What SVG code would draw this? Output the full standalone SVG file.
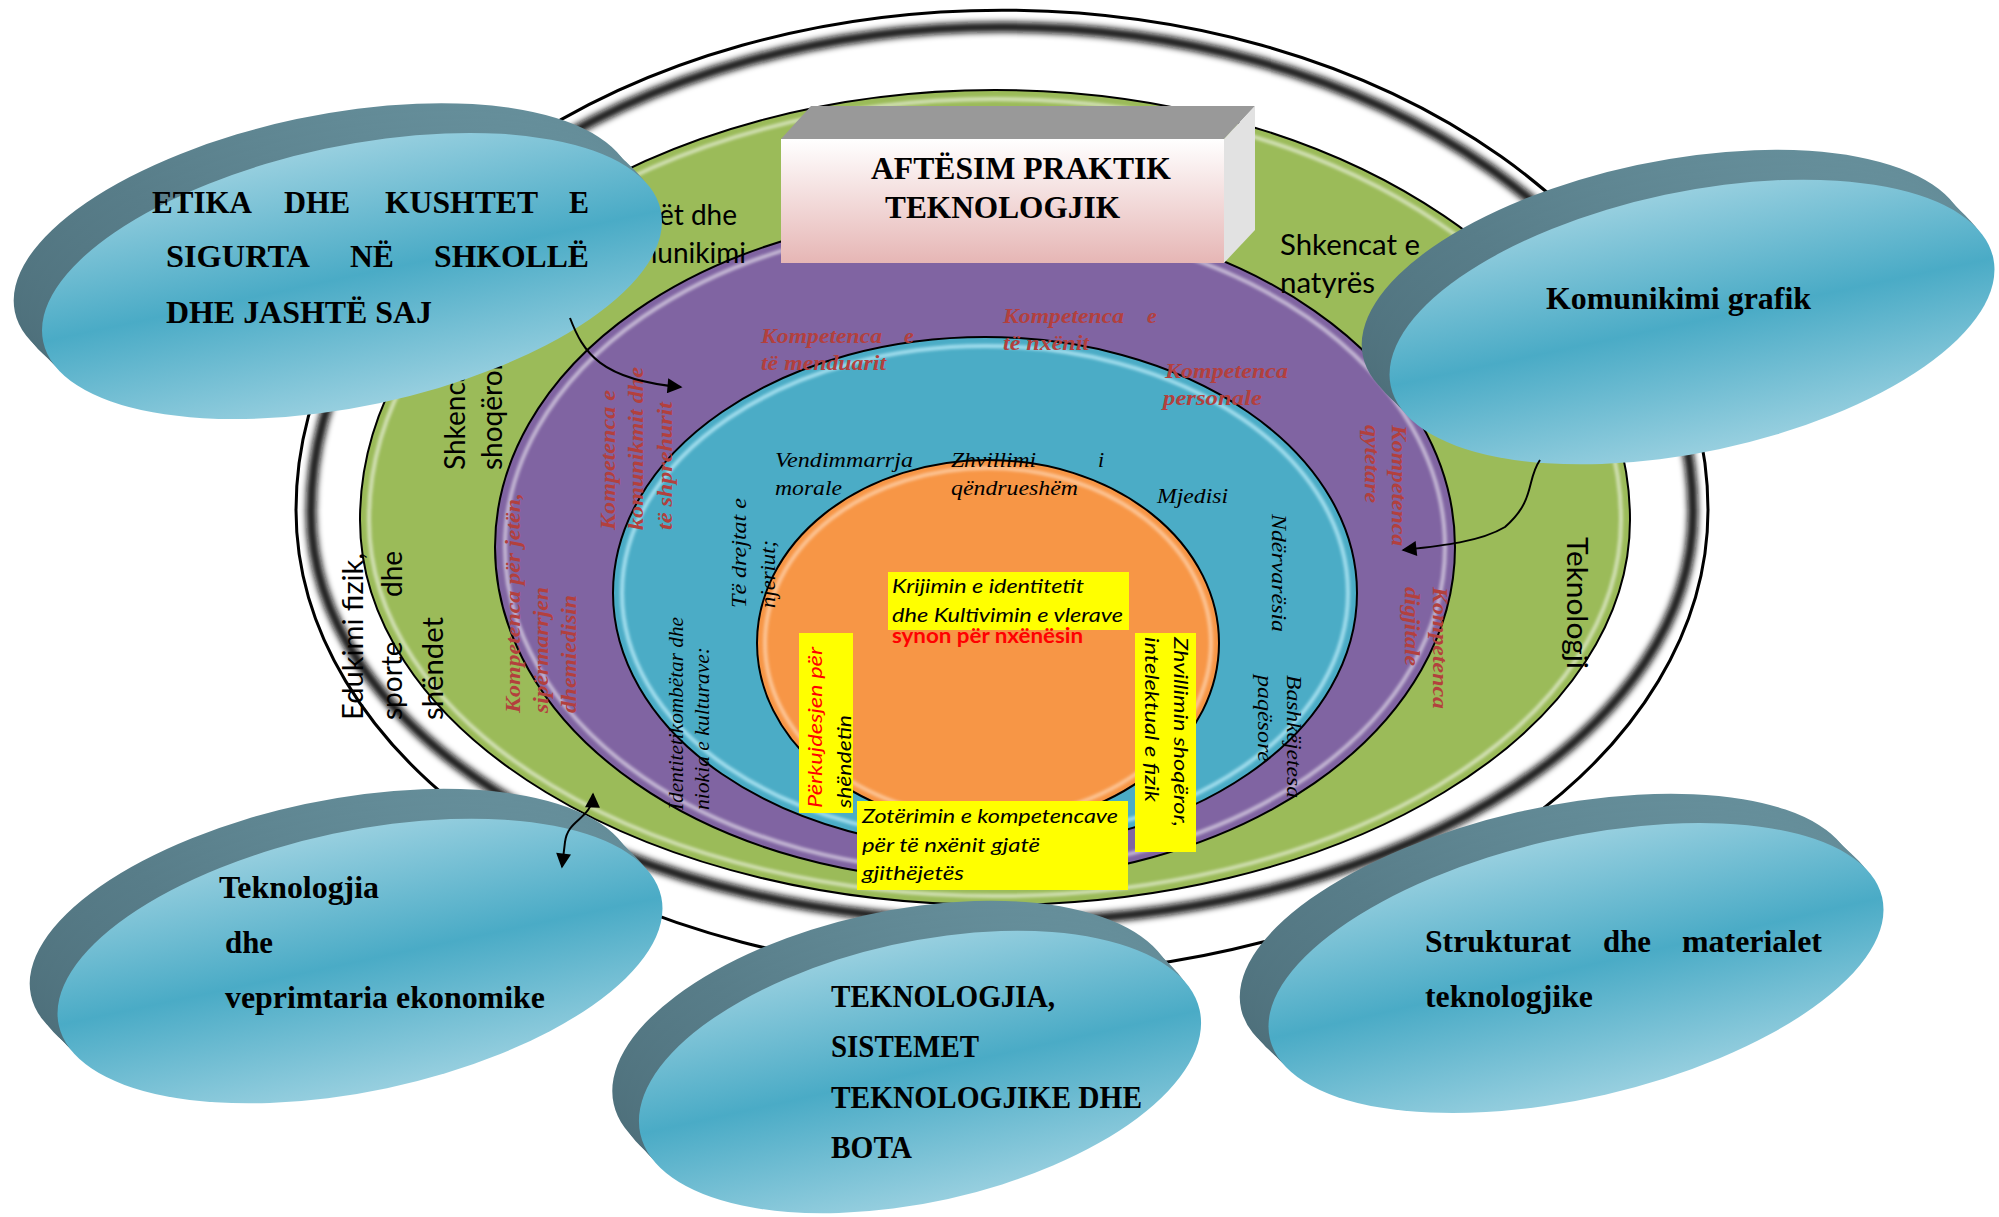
<svg xmlns="http://www.w3.org/2000/svg" xmlns:xlink="http://www.w3.org/1999/xlink" width="1999" height="1217" viewBox="0 0 1999 1217">
<style>
.g{font-family:Lato,"Open Sans",sans-serif;font-size:28px;fill:#000}
.pr{font-family:"Liberation Serif",serif;font-weight:bold;font-style:italic;font-size:22px;fill:#b3403d}
.bi{font-family:"Liberation Serif",serif;font-style:italic;font-size:22px;fill:#000}
.bs{font-family:"Liberation Serif",serif;font-style:italic;font-size:20px;fill:#000}
.yi{font-family:Lato,"Open Sans",sans-serif;font-style:italic;font-size:20px;fill:#000}
.yr{font-family:Lato,"Open Sans",sans-serif;font-style:italic;font-size:20px;fill:#ff0000}
.rb{font-family:Lato,"Open Sans",sans-serif;font-weight:bold;font-size:21px;fill:#ff0000}
.dt{font-family:"Liberation Serif",serif;font-weight:bold;font-size:31px;fill:#000}
.ttl{font-family:"Liberation Serif",serif;font-weight:bold;font-size:32px;fill:#000}
.ybox{fill:#ffff00}
.conn{fill:none;stroke:#000;stroke-width:2}
.hl{fill:none;stroke:#fff;stroke-width:4;opacity:.55;filter:url(#blur2)}
</style>
<defs>
<filter id="blur2" x="-5%" y="-5%" width="110%" height="110%"><feGaussianBlur stdDeviation="1.6"/></filter>
<filter id="blur4" x="-5%" y="-5%" width="110%" height="110%"><feGaussianBlur stdDeviation="3.2"/></filter>
<linearGradient id="face" x1="0" y1="0" x2="0" y2="1">
<stop offset="0" stop-color="#97cfdf"/><stop offset="0.5" stop-color="#4aabc6"/><stop offset="1" stop-color="#97cfdf"/>
</linearGradient>
<linearGradient id="side" x1="0" y1="1" x2="1" y2="0">
<stop offset="0" stop-color="#486873"/><stop offset="0.55" stop-color="#587d89"/><stop offset="1" stop-color="#6c97a3"/>
</linearGradient>
<linearGradient id="front" x1="0" y1="0" x2="0" y2="1">
<stop offset="0" stop-color="#ffffff"/><stop offset="1" stop-color="#e6b6b5"/>
</linearGradient>
<g id="discShape">
<ellipse cx="-21" cy="-35" rx="308" ry="130" fill="url(#side)"/>
<ellipse cx="-16" cy="-26" rx="308" ry="130" fill="url(#side)"/>
<ellipse cx="-10" cy="-17" rx="308" ry="130" fill="url(#side)"/>
<ellipse cx="-5" cy="-9" rx="308" ry="130" fill="url(#side)"/>
<ellipse cx="0" cy="0" rx="308" ry="130" fill="url(#face)"/>
</g>
<marker id="ah" viewBox="0 0 10 10" refX="9" refY="5" markerUnits="userSpaceOnUse" markerWidth="17" markerHeight="15" orient="auto-start-reverse">
<path d="M0,0 L10,5 L0,10 z" fill="#000"/>
</marker>
</defs>
<rect width="1999" height="1217" fill="#fff"/>

<g id="ring">
<path d="M296,510 A706,500 0 0 1 1708,510 A706,465 0 0 1 296,510 Z" fill="#fff" stroke="#000" stroke-width="3"/>
<path d="M311,512 A691,485 0 0 1 1693,512 A691,410 0 0 1 311,512 Z" fill="none" stroke="#111" stroke-width="10" filter="url(#blur4)"/>
</g>

<g id="green-band">
<path d="M360,520 A635,430 0 0 1 1630,520 A635,385 0 0 1 360,520 Z" fill="#9bbb59" stroke="#000" stroke-width="2"/>
<path d="M369,520 A626,421 0 0 1 1621,520 A626,376 0 0 1 369,520 Z" class="hl"/>
</g>

<g id="purple-band">
<ellipse cx="975" cy="547" rx="480" ry="334" fill="#8064a2" stroke="#000" stroke-width="2"/>
<ellipse cx="975" cy="547" rx="470" ry="325" class="hl"/>
</g>

<g id="blue-band">
<ellipse cx="985" cy="593" rx="372" ry="256" fill="#4bacc6" stroke="#000" stroke-width="2"/>
<ellipse cx="985" cy="593" rx="363" ry="247" class="hl" style="stroke:#c8f4ff;opacity:.7"/>
</g>

<g id="orange-core">
<ellipse cx="988" cy="643" rx="231" ry="183" fill="#f79646" stroke="#000" stroke-width="2"/>
<ellipse cx="988" cy="643" rx="223" ry="175" class="hl" style="stroke:#ffd9b8;opacity:.7"/>
</g>

<g id="green-band-labels">
<text class="g" x="1280" y="255" textLength="140" lengthAdjust="spacingAndGlyphs">Shkencat e</text>
<text class="g" x="1280" y="293" textLength="95" lengthAdjust="spacingAndGlyphs">natyrës</text>
<text class="g" x="737" y="225" text-anchor="end">Gjuhët dhe</text>
<text class="g" x="746" y="263" text-anchor="end">komunikimi</text>
<text class="g" transform="translate(465,470) rotate(-90)">Shkencat</text>
<text class="g" transform="translate(502,470) rotate(-90)">shoqërore</text>
<text class="g" transform="translate(363,720) rotate(-90)" textLength="167" lengthAdjust="spacingAndGlyphs">Edukimi fizik,</text>
<text class="g" transform="translate(402,720) rotate(-90)">sporte<tspan x="123">dhe</tspan></text>
<text class="g" transform="translate(443,720) rotate(-90)" textLength="103" lengthAdjust="spacingAndGlyphs">shëndet</text>
<text class="g" transform="translate(1567,537) rotate(90)" textLength="132" lengthAdjust="spacingAndGlyphs">Teknologji</text>
</g>

<g id="purple-band-labels">
<text class="pr" x="761" y="343"><tspan textLength="121" lengthAdjust="spacingAndGlyphs">Kompetenca</tspan><tspan x="904">e</tspan></text>
<text class="pr" x="761" y="370" textLength="125" lengthAdjust="spacingAndGlyphs">të menduarit</text>
<text class="pr" x="1003" y="323"><tspan textLength="121" lengthAdjust="spacingAndGlyphs">Kompetenca</tspan><tspan x="1147">e</tspan></text>
<text class="pr" x="1003" y="350" textLength="86" lengthAdjust="spacingAndGlyphs">të nxënit</text>
<text class="pr" x="1165" y="378" textLength="123" lengthAdjust="spacingAndGlyphs">Kompetenca</text>
<text class="pr" x="1163" y="405" textLength="99" lengthAdjust="spacingAndGlyphs">personale</text>
<text class="pr" transform="translate(1392,425) rotate(90)" textLength="121" lengthAdjust="spacingAndGlyphs">Kompetenca</text>
<text class="pr" transform="translate(1365,425) rotate(90)" textLength="78" lengthAdjust="spacingAndGlyphs">qytetare</text>
<text class="pr" transform="translate(1433,587) rotate(90)" textLength="122" lengthAdjust="spacingAndGlyphs">Kompetenca</text>
<text class="pr" transform="translate(1405,587) rotate(90)" textLength="79" lengthAdjust="spacingAndGlyphs">digjitale</text>
<text class="pr" transform="translate(520,713) rotate(-90)" textLength="220" lengthAdjust="spacingAndGlyphs">Kompetenca për jetën,</text>
<text class="pr" transform="translate(548,713) rotate(-90)" textLength="126" lengthAdjust="spacingAndGlyphs">sipërmarrjen</text>
<text class="pr" transform="translate(576,713) rotate(-90)" textLength="118" lengthAdjust="spacingAndGlyphs">dhemiedisin</text>
<text class="pr" transform="translate(615,530) rotate(-90)" textLength="140" lengthAdjust="spacingAndGlyphs">Kompetenca e</text>
<text class="pr" transform="translate(643,530) rotate(-90)" textLength="163" lengthAdjust="spacingAndGlyphs">komunikmit dhe</text>
<text class="pr" transform="translate(672,530) rotate(-90)" textLength="128" lengthAdjust="spacingAndGlyphs">të shprehurit</text>
</g>

<g id="blue-band-labels">
<text class="bi" x="775" y="467" textLength="138" lengthAdjust="spacingAndGlyphs">Vendimmarrja</text>
<text class="bi" x="775" y="495" textLength="67" lengthAdjust="spacingAndGlyphs">morale</text>
<text class="bi" x="951" y="467"><tspan textLength="85" lengthAdjust="spacingAndGlyphs">Zhvillimi</tspan><tspan x="1098">i</tspan></text>
<text class="bi" x="951" y="495" textLength="127" lengthAdjust="spacingAndGlyphs">qëndrueshëm</text>
<text class="bi" x="1157" y="503" textLength="71" lengthAdjust="spacingAndGlyphs">Mjedisi</text>
<text class="bi" transform="translate(1272,514) rotate(90)" textLength="118" lengthAdjust="spacingAndGlyphs">Ndërvarësia</text>
<text class="bi" transform="translate(1287,675) rotate(90)" textLength="123" lengthAdjust="spacingAndGlyphs">Bashkëjetesa</text>
<text class="bi" transform="translate(1258,675) rotate(90)" textLength="87" lengthAdjust="spacingAndGlyphs">paqësore</text>
<text class="bi" transform="translate(746,608) rotate(-90)" textLength="110" lengthAdjust="spacingAndGlyphs">Të drejtat e</text>
<text class="bi" transform="translate(775,608) rotate(-90)" textLength="68" lengthAdjust="spacingAndGlyphs">njeriut;</text>
<text class="bs" transform="translate(683,810) rotate(-90)" textLength="193" lengthAdjust="spacingAndGlyphs">Identitetikombëtar dhe</text>
<text class="bs" transform="translate(709,810) rotate(-90)" textLength="163" lengthAdjust="spacingAndGlyphs">niokia e kulturave:</text>
</g>

<g id="core-labels">
<rect class="ybox" x="888" y="572" width="241" height="58"/>
<text class="yi" x="892" y="593" textLength="192" lengthAdjust="spacingAndGlyphs">Krijimin e identitetit</text>
<text class="yi" x="892" y="622" textLength="231" lengthAdjust="spacingAndGlyphs">dhe Kultivimin e vlerave</text>
<text class="rb" x="892" y="643" textLength="191" lengthAdjust="spacingAndGlyphs">synon për nxënësin</text>
<rect class="ybox" x="799" y="633" width="54" height="180"/>
<text class="yr" transform="translate(822,808) rotate(-90)" textLength="161" lengthAdjust="spacingAndGlyphs">Përkujdesjen për</text>
<text class="yi" transform="translate(851,808) rotate(-90)" textLength="93" lengthAdjust="spacingAndGlyphs">shëndetin</text>
<rect class="ybox" x="857" y="801" width="271" height="89"/>
<text class="yi" x="862" y="823" textLength="256" lengthAdjust="spacingAndGlyphs">Zotërimin e kompetencave</text>
<text class="yi" x="862" y="852" textLength="178" lengthAdjust="spacingAndGlyphs">për të nxënit gjatë</text>
<text class="yi" x="862" y="880" textLength="102" lengthAdjust="spacingAndGlyphs">gjithëjetës</text>
<rect class="ybox" x="1135" y="633" width="61" height="219"/>
<text class="yi" transform="translate(1174,637) rotate(90)" textLength="190" lengthAdjust="spacingAndGlyphs">Zhvillimin shoqëror,</text>
<text class="yi" transform="translate(1145,637) rotate(90)" textLength="165" lengthAdjust="spacingAndGlyphs">intelektual e fizik</text>
</g>

<g id="title-box">
<polygon points="781,139 811,106 1255,106 1224,139" fill="#999999"/>
<polygon points="1224,139 1255,106 1255,230 1224,263" fill="#e2e2e2"/>
<rect x="781" y="139" width="443" height="124" fill="url(#front)"/>
<text class="ttl" x="871" y="179" textLength="300" lengthAdjust="spacingAndGlyphs">AFTËSIM PRAKTIK</text>
<text class="ttl" x="885" y="218" textLength="235" lengthAdjust="spacingAndGlyphs">TEKNOLOGJIK</text>
</g>

<g id="node-etika">
<use xlink:href="#discShape" transform="translate(352,276) rotate(-12) scale(1.025,1)"/>
<text class="dt" y="213"><tspan x="152" textLength="100" lengthAdjust="spacingAndGlyphs">ETIKA</tspan><tspan x="284" textLength="66" lengthAdjust="spacingAndGlyphs">DHE</tspan><tspan x="385" textLength="153" lengthAdjust="spacingAndGlyphs">KUSHTET</tspan><tspan x="569" textLength="20" lengthAdjust="spacingAndGlyphs">E</tspan></text>
<text class="dt" y="267"><tspan x="166" textLength="144" lengthAdjust="spacingAndGlyphs">SIGURTA</tspan><tspan x="350" textLength="44" lengthAdjust="spacingAndGlyphs">NË</tspan><tspan x="434" textLength="155" lengthAdjust="spacingAndGlyphs">SHKOLLË</tspan></text>
<text class="dt" x="166" y="323" textLength="266" lengthAdjust="spacingAndGlyphs">DHE JASHTË SAJ</text>
</g>

<g id="node-komunikimi">
<use xlink:href="#discShape" transform="translate(1692,322) rotate(-12)"/>
<text class="dt" x="1546" y="309" textLength="265" lengthAdjust="spacingAndGlyphs">Komunikimi grafik</text>
</g>

<g id="node-teknologjia">
<use xlink:href="#discShape" transform="translate(360,961) rotate(-12)"/>
<text class="dt" x="219" y="898" textLength="160" lengthAdjust="spacingAndGlyphs">Teknologjia</text>
<text class="dt" x="225" y="953" textLength="48" lengthAdjust="spacingAndGlyphs">dhe</text>
<text class="dt" x="225" y="1008" textLength="320" lengthAdjust="spacingAndGlyphs">veprimtaria ekonomike</text>
</g>

<g id="node-sistemet">
<use xlink:href="#discShape" transform="translate(920,1072) rotate(-12.5) scale(0.93,1)"/>
<text class="dt" x="831" y="1007" textLength="224" lengthAdjust="spacingAndGlyphs">TEKNOLOGJIA,</text>
<text class="dt" x="831" y="1057" textLength="148" lengthAdjust="spacingAndGlyphs">SISTEMET</text>
<text class="dt" x="831" y="1108" textLength="311" lengthAdjust="spacingAndGlyphs">TEKNOLOGJIKE DHE</text>
<text class="dt" x="831" y="1158" textLength="81" lengthAdjust="spacingAndGlyphs">BOTA</text>
</g>

<g id="node-strukturat">
<use xlink:href="#discShape" transform="translate(1576,968) rotate(-13) scale(1.02,1)"/>
<text class="dt" y="952"><tspan x="1425" textLength="146" lengthAdjust="spacingAndGlyphs">Strukturat</tspan><tspan x="1603" textLength="48" lengthAdjust="spacingAndGlyphs">dhe</tspan><tspan x="1682" textLength="140" lengthAdjust="spacingAndGlyphs">materialet</tspan></text>
<text class="dt" x="1425" y="1007" textLength="168" lengthAdjust="spacingAndGlyphs">teknologjike</text>
</g>

<g id="connectors">
<path class="conn" d="M570,318 C583,352 600,380 681,387" marker-end="url(#ah)"/>
<path class="conn" d="M1540,460 C1526,480 1536,500 1505,527 C1480,542 1440,546 1403,550" marker-end="url(#ah)"/>
<path class="conn" d="M593,794 C592,820 568,818 565,842 L562,867" marker-start="url(#ah)" marker-end="url(#ah)"/>
</g>
</svg>
